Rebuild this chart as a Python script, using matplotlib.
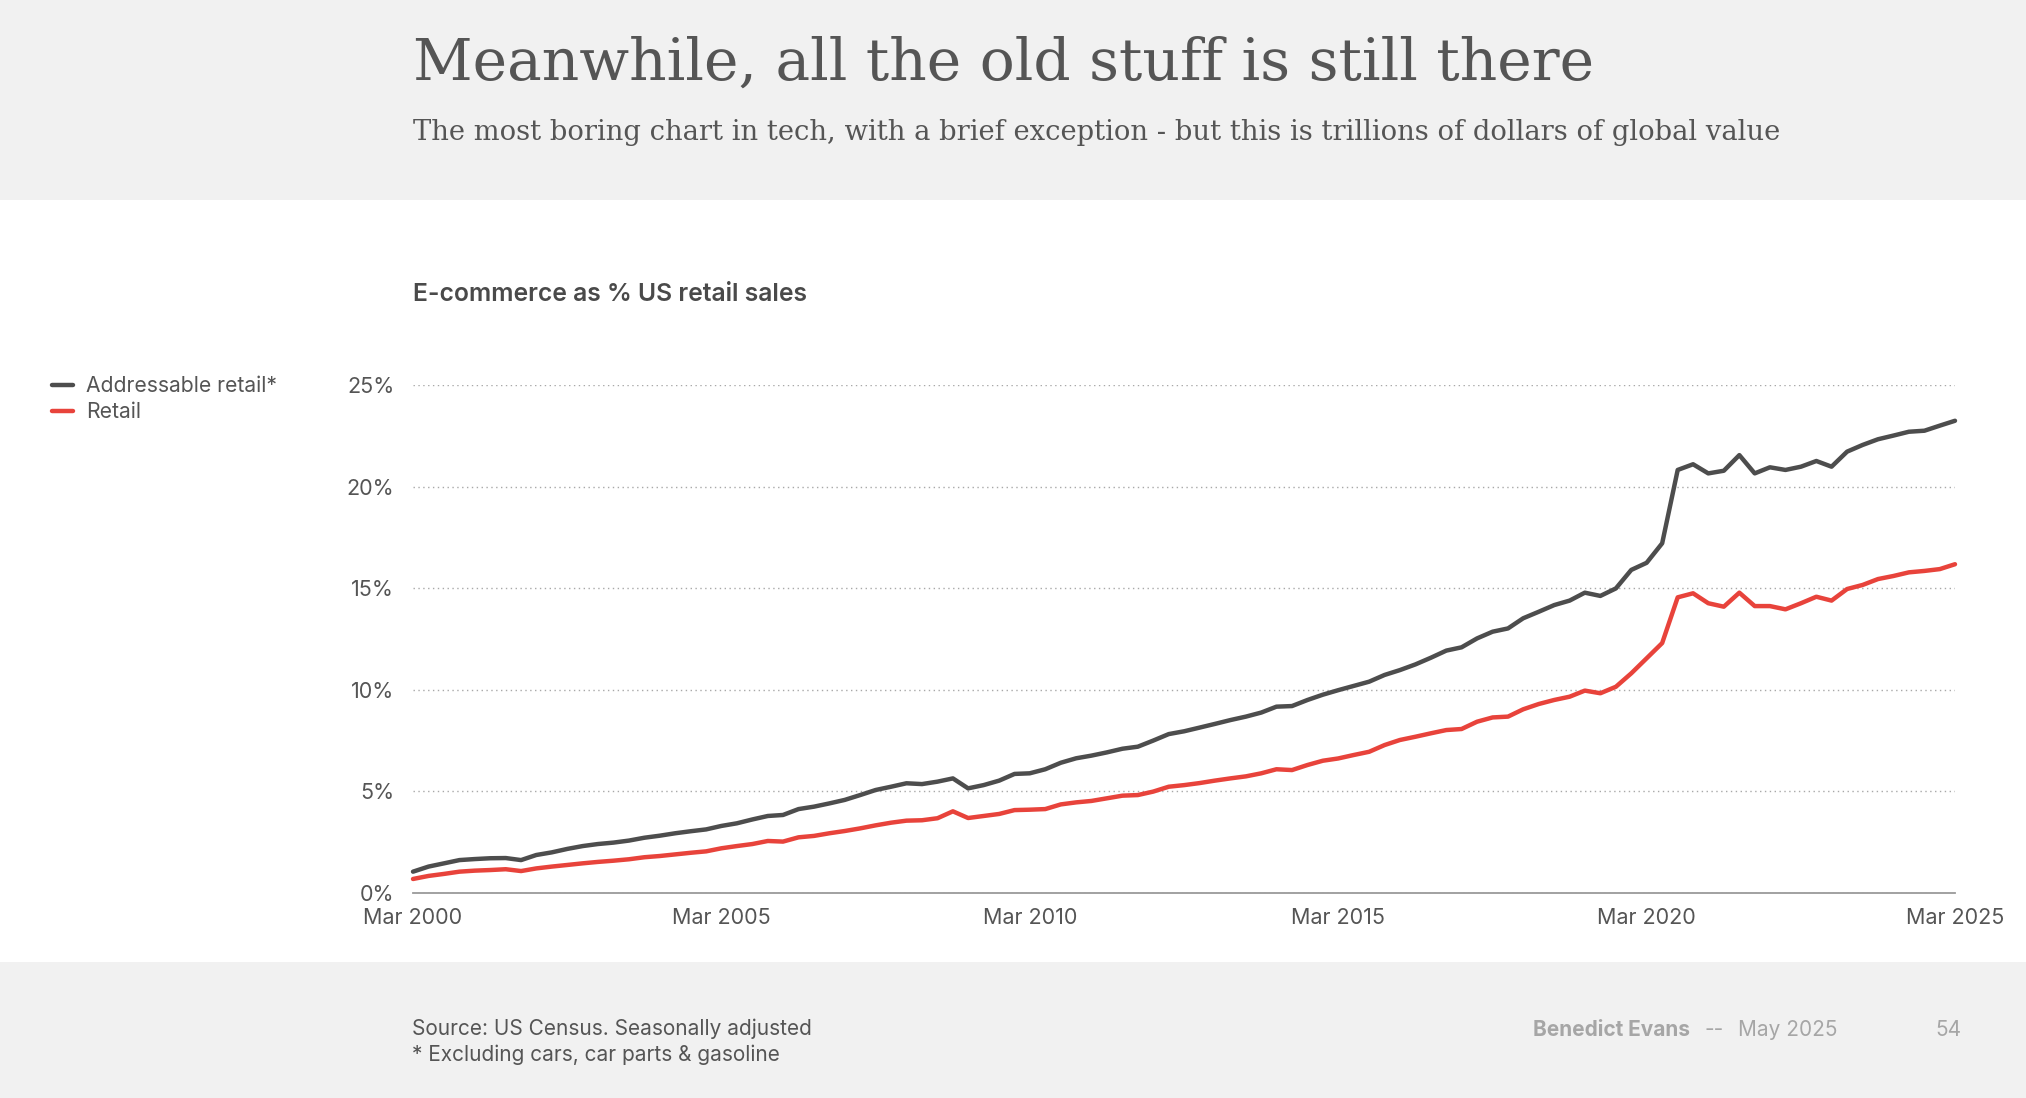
import pandas as pd
import matplotlib
matplotlib.use('Agg')
import matplotlib.pyplot as plt
from matplotlib.patches import Rectangle

# quarterly points, Mar 2000 .. Mar 2025 (values in % of US retail sales)
quarters = pd.date_range('2000-03-01', '2025-03-01', freq='3MS')

addressable = [
    1.05, 1.30, 1.46, 1.62,
    1.67, 1.71, 1.72, 1.62,
    1.87, 2.00, 2.17, 2.31,
    2.41, 2.48, 2.58, 2.72,
    2.82, 2.94, 3.04, 3.13,
    3.30, 3.43, 3.62, 3.79,
    3.84, 4.13, 4.25, 4.41,
    4.58, 4.82, 5.07, 5.23,
    5.40, 5.36, 5.48, 5.64,
    5.15, 5.31, 5.53, 5.86,
    5.89, 6.09, 6.41, 6.63,
    6.76, 6.92, 7.10, 7.20,
    7.50, 7.82, 7.96, 8.14,
    8.32, 8.51, 8.68, 8.88,
    9.17, 9.20, 9.50, 9.76,
    9.98, 10.19, 10.40, 10.73,
    10.97, 11.25, 11.58, 11.93,
    12.09, 12.53, 12.86, 13.02,
    13.52, 13.84, 14.17, 14.39,
    14.78, 14.62, 14.99, 15.90,
    16.25, 17.21, 20.82, 21.10,
    20.65, 20.78, 21.55, 20.65,
    20.95, 20.82, 20.98, 21.26,
    20.98, 21.72, 22.05, 22.33,
    22.51, 22.70, 22.75, 23.00,
    23.24,
]

retail = [
    0.69, 0.84, 0.94, 1.05,
    1.10, 1.13, 1.17, 1.08,
    1.21, 1.30, 1.38, 1.46,
    1.53, 1.59, 1.66, 1.76,
    1.82, 1.90, 1.98, 2.05,
    2.20, 2.31, 2.41, 2.56,
    2.53, 2.74, 2.81, 2.94,
    3.05, 3.18, 3.33, 3.46,
    3.56, 3.58, 3.68, 4.02,
    3.69, 3.79, 3.89, 4.08,
    4.10, 4.13, 4.36, 4.46,
    4.53, 4.66, 4.79, 4.82,
    4.99, 5.23, 5.31, 5.41,
    5.53, 5.64, 5.74, 5.89,
    6.09, 6.05, 6.30, 6.51,
    6.62, 6.79, 6.95, 7.28,
    7.53, 7.69, 7.86, 8.02,
    8.07, 8.43, 8.64, 8.68,
    9.04, 9.30, 9.50, 9.66,
    9.96, 9.83, 10.15, 10.81,
    11.55, 12.30, 14.55, 14.75,
    14.26, 14.09, 14.78, 14.12,
    14.12, 13.96, 14.26, 14.58,
    14.39, 14.96, 15.16, 15.45,
    15.60, 15.78, 15.85, 15.94,
    16.18,
]

yticks = [0, 5, 10, 15, 20, 25]
ytick_labels = ['0%', '5%', '10%', '15%', '20%', '25%']
xtick_years = [2000, 2005, 2010, 2015, 2020, 2025]

plt.rcParams['font.family'] = ['Inter', 'DejaVu Sans']

W, H = 2026, 1098
fig = plt.figure(figsize=(W / 100, H / 100), dpi=100)
fig.patch.set_facecolor('white')


def fx(px):
    return px / W


def fy(py):
    return 1 - py / H


def fit_width(t, target_px):
    # scale a text's font size so it spans target_px pixels
    r = fig.canvas.get_renderer()
    w = t.get_window_extent(renderer=r).width
    t.set_fontsize(t.get_fontsize() * target_px / w)


band = '#f1f1f1'
fig.patches.append(Rectangle((0, fy(200)), 1, 1 - fy(200), transform=fig.transFigure,
                             facecolor=band, edgecolor='none', zorder=0))
fig.patches.append(Rectangle((0, 0), 1, fy(962), transform=fig.transFigure,
                             facecolor=band, edgecolor='none', zorder=0))

grey = '#555555'
title = fig.text(fx(413), fy(80), 'Meanwhile, all the old stuff is still there',
                 family='DejaVu Serif', fontsize=44, color=grey, va='baseline')
fit_width(title, 1182)
sub = fig.text(fx(413), fy(140),
               'The most boring chart in tech, with a brief exception - but this is trillions of dollars of global value',
               family='DejaVu Serif', fontsize=20, color=grey, va='baseline')
fit_width(sub, 1366)
fig.text(fx(413), fy(294), 'E-commerce as % US retail sales', fontsize=17.8,
         fontweight='semibold', color='#4a4a4a', va='center')

ax = fig.add_axes([fx(413), fy(893), fx(1955) - fx(413), fy(385) - fy(893)])
ax.plot(quarters, addressable, color='#4d4d4d', lw=3.2, solid_joinstyle='round',
        solid_capstyle='round', clip_on=False, label='Addressable retail*', zorder=3)
ax.plot(quarters, retail, color='#e8433b', lw=3.2, solid_joinstyle='round',
        solid_capstyle='round', clip_on=False, label='Retail', zorder=3)

ax.set_xlim(quarters[0], quarters[-1])
ax.set_ylim(0, 25)
ax.set_yticks(yticks)
ax.set_yticklabels(ytick_labels)
ax.set_xticks([pd.Timestamp(f'{y}-03-01') for y in xtick_years])
ax.set_xticklabels([f'Mar {y}' for y in xtick_years])
ax.tick_params(length=0, labelsize=15.5, colors=grey)
ax.tick_params(axis='y', pad=13.5)
ax.tick_params(axis='x', pad=11)
for s in ['top', 'right', 'left']:
    ax.spines[s].set_visible(False)
ax.spines['bottom'].set_color('#9a9a9a')
ax.spines['bottom'].set_linewidth(1.3)
ax.grid(axis='y', linestyle=(0, (1, 2.5)), color='#a8a8a8', linewidth=1)
ax.grid(axis='x', visible=False)
ax.set_axisbelow(True)
ax.set_facecolor('none')

handles, labels = ax.get_legend_handles_labels()
fig.legend(handles, labels, loc='upper left', bbox_to_anchor=(fx(52), fy(376)),
           frameon=False, fontsize=15.2, labelcolor=grey, handlelength=1.0,
           handletextpad=0.62, labelspacing=0.28, borderpad=0, borderaxespad=0)

foot = 15
fig.text(fx(412), fy(1035), 'Source: US Census. Seasonally adjusted', fontsize=foot,
         color=grey, va='baseline')
fig.text(fx(412), fy(1061), '* Excluding cars, car parts & gasoline', fontsize=foot,
         color=grey, va='baseline')
fig.text(fx(1533), fy(1036), 'Benedict Evans', fontsize=foot, fontweight='bold',
         color='#a6a6a6', va='baseline')
fig.text(fx(1704), fy(1036), '--', fontsize=foot, color='#a6a6a6', va='baseline')
fig.text(fx(1738), fy(1036), 'May 2025', fontsize=foot, color='#a6a6a6', va='baseline')
fig.text(fx(1961), fy(1036), '54', fontsize=foot, color='#a6a6a6', va='baseline', ha='right')

fig.savefig('out.png', dpi=100, facecolor=fig.get_facecolor())
